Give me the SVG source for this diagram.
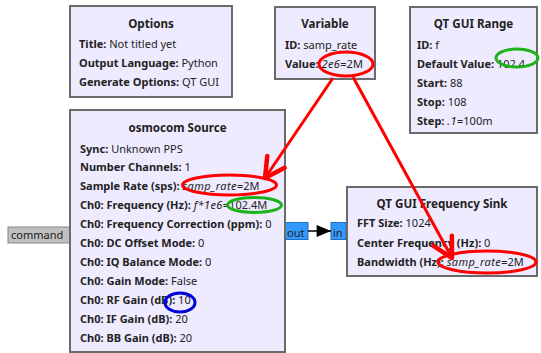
<svg xmlns="http://www.w3.org/2000/svg" width="541" height="353" viewBox="0 0 541 353">
<style>
text{font-family:"Noto Sans","DejaVu Sans",sans-serif;font-size:11px;fill:#222}
.t{font-weight:bold;text-anchor:middle;font-size:11.6px}
.k{font-weight:bold}
.i{font-style:italic;letter-spacing:0.4px}
.blk{fill:#efebff;stroke:#6a6a6a;stroke-width:2}
.port{fill:#3399ff;stroke:#1f6fbf;stroke-width:1}
.red{fill:none;stroke:#ff0000;stroke-width:3}
.grn{fill:none;stroke:#1db31d;stroke-width:3}
.blu{fill:none;stroke:#0000dd;stroke-width:3}
</style>
<defs>
<marker id="rh" markerUnits="userSpaceOnUse" markerWidth="30" markerHeight="30" refX="0" refY="0" viewBox="-16 -10 20 20" orient="auto">
<path d="M-13,-7 L0,0 L-13,7" fill="none" stroke="#ff0000" stroke-width="3" stroke-linecap="round" stroke-linejoin="round"/>
</marker>
<marker id="bh" markerUnits="userSpaceOnUse" markerWidth="16" markerHeight="12" refX="12" refY="5" viewBox="0 0 12 10" orient="auto">
<path d="M0,0 L12,5 L0,10 z" fill="#000"/>
</marker>
</defs>

<g id="options">
<rect class="blk" x="70" y="6" width="162" height="91"/>
<text class="t" x="151" y="28.3">Options</text>
<text x="79" y="48.3"><tspan class="k">Title:</tspan> Not titled yet</text>
<text x="79" y="67.2"><tspan class="k">Output Language:</tspan> Python</text>
<text x="79" y="86.1"><tspan class="k">Generate Options:</tspan> QT GUI</text>
</g>

<g id="variable">
<rect class="blk" x="275" y="7" width="100" height="72"/>
<text class="t" x="325" y="28.3">Variable</text>
<text x="285" y="49.3"><tspan class="k">ID:</tspan> samp_rate</text>
<text x="285" y="68.2"><tspan class="k">Value:</tspan> <tspan class="i">2e6</tspan>=2M</text>
</g>

<g id="qt_gui_range">
<rect class="blk" x="410" y="7" width="127" height="126"/>
<text class="t" x="473.5" y="28.3">QT GUI Range</text>
<text x="417" y="49.3"><tspan class="k">ID:</tspan> f</text>
<text x="417" y="68.2"><tspan class="k">Default Value:</tspan> 102.4</text>
<text x="417" y="87.1"><tspan class="k">Start:</tspan> 88</text>
<text x="417" y="106"><tspan class="k">Stop:</tspan> 108</text>
<text x="417" y="124.9"><tspan class="k">Step:</tspan> <tspan class="i">.1</tspan>=100m</text>
</g>

<g id="osmocom_source">
<rect x="8" y="227" width="62" height="16" fill="#c0c0c0" stroke="#888" stroke-width="1"/>
<text x="11" y="239">command</text>
<rect class="port" x="285" y="222.5" width="23" height="17"/>
<text x="287" y="236.5">out</text>
<rect class="blk" x="70" y="110" width="215" height="242"/>
<text class="t" x="177.5" y="131.5">osmocom Source</text>
<text x="80" y="152.5"><tspan class="k">Sync:</tspan> Unknown PPS</text>
<text x="80" y="171.4"><tspan class="k">Number Channels:</tspan> 1</text>
<text x="80" y="190.3"><tspan class="k">Sample Rate (sps):</tspan> <tspan class="i">samp_rate</tspan>=2M</text>
<text x="80" y="209.2"><tspan class="k">Ch0: Frequency (Hz):</tspan> <tspan class="i">f*1e6</tspan>=102.4M</text>
<text x="80" y="228.1"><tspan class="k">Ch0: Frequency Correction (ppm):</tspan> 0</text>
<text x="80" y="247"><tspan class="k">Ch0: DC Offset Mode:</tspan> 0</text>
<text x="80" y="265.9"><tspan class="k">Ch0: IQ Balance Mode:</tspan> 0</text>
<text x="80" y="284.8"><tspan class="k">Ch0: Gain Mode:</tspan> False</text>
<text x="80" y="303.7"><tspan class="k">Ch0: RF Gain (dB):</tspan> 10</text>
<text x="80" y="322.6"><tspan class="k">Ch0: IF Gain (dB):</tspan> 20</text>
<text x="80" y="341.5"><tspan class="k">Ch0: BB Gain (dB):</tspan> 20</text>
</g>

<g id="qt_gui_freq_sink">
<rect class="port" x="331" y="222.5" width="15" height="17"/>
<text x="333" y="236.5">in</text>
<rect class="blk" x="347" y="187" width="190" height="89"/>
<text class="t" x="442" y="208.3">QT GUI Frequency Sink</text>
<text x="357" y="227.3"><tspan class="k">FFT Size:</tspan> 1024</text>
<text x="357" y="246.5"><tspan class="k">Center Frequency (Hz):</tspan> 0</text>
<text x="357" y="265.7"><tspan class="k">Bandwidth (Hz):</tspan> <tspan class="i">samp_rate</tspan>=2M</text>
</g>

<g id="connectors">
<line x1="308" y1="231" x2="331" y2="231" stroke="#000" stroke-width="1.5" marker-end="url(#bh)"/>
</g>

<g id="annotations">
<ellipse class="red" cx="346" cy="64" rx="27" ry="12"/>
<ellipse class="red" cx="229.5" cy="185" rx="47" ry="10"/>
<ellipse class="grn" cx="254.5" cy="205" rx="27" ry="7.5"/>
<ellipse class="grn" cx="517" cy="58" rx="21" ry="9"/>
<ellipse class="blu" cx="180" cy="302.5" rx="15" ry="9.5"/>
<ellipse class="red" cx="487" cy="262" rx="49" ry="11"/>
<line class="red" x1="333" y1="78" x2="265" y2="178" marker-end="url(#rh)"/>
<line class="red" x1="353" y1="77" x2="452" y2="258" marker-end="url(#rh)"/>
</g>
</svg>
